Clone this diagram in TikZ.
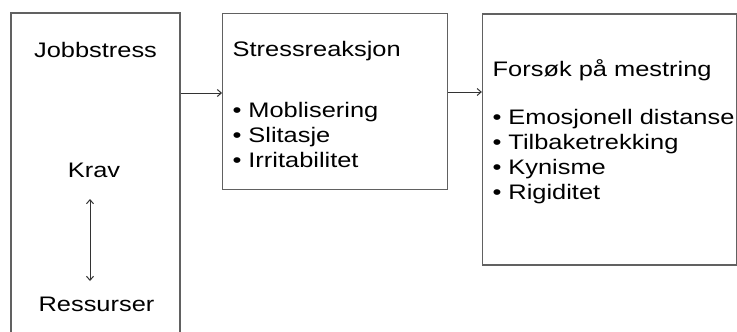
\documentclass[tikz,border=0pt]{standalone}
\usepackage{fontspec}
\setmainfont{Liberation Sans}[FakeStretch=1.21]
\usetikzlibrary{arrows.meta}
\begin{document}
\begin{tikzpicture}[x=1pt,y=-1pt,
  panel/.style={draw=black!62, line width=1.3pt, rectangle, inner sep=0pt},
  label/.style={inner sep=0pt, font=\fontsize{21}{25}\selectfont, text=black},
  bullets/.style={label, align=left, anchor=base west},
  flow/.style={draw=black!80, line width=1pt, -{Straight Barb[length=4pt,width=7pt]}},
  both/.style={draw=black!80, line width=1pt, {Straight Barb[length=4pt,width=7pt]}-{Straight Barb[length=4pt,width=7pt]}}]
  \clip (0,0) rectangle (737,332);
  \fill[white] (0,0) rectangle (737,332);

  % three panels (the first runs past the lower edge)
  \node[panel, minimum width=169pt, minimum height=347pt] (b1) at (95.5,186.5) {};
  \node[panel, minimum width=224.6pt, minimum height=176pt] (b2) at (335,101.3) {};
  \node[panel, minimum width=253.8pt, minimum height=251pt] (b3) at (609.4,139.5) {};

  % left panel
  \node[label, anchor=base] (jobb) at (95.5,57) {Jobbstress};
  \node[label, anchor=base] (krav) at (94,177) {Krav};
  \node[label, anchor=base] (ress) at (96.5,311) {Ressurser};
  \coordinate (kt) at (90,199);
  \coordinate (kb) at (90,281);
  \draw[both] (kt) -- (kb);

  % middle panel (list anchored at the baseline of its last line)
  \node[label, anchor=base west] (sr) at (232.5,56.7) {Stressreaksjon};
  \node[bullets] (srl) at (232.3,167) {• Moblisering\\• Slitasje\\• Irritabilitet};

  % right panel
  \node[label, anchor=base west] (fm) at (492.5,76.7) {Forsøk på mestring};
  \node[bullets] (fml) at (492.3,199) {• Emosjonell distanse\\• Tilbaketrekking\\• Kynisme\\• Rigiditet};

  % connectors between panels
  \coordinate (ya) at (0,93);
  \coordinate (yb) at (0,92);
  \draw[flow] (b1.east |- ya) -- (b2.west |- ya);
  \draw[flow] (b2.east |- yb) -- (b3.west |- yb);
\end{tikzpicture}
\end{document}
